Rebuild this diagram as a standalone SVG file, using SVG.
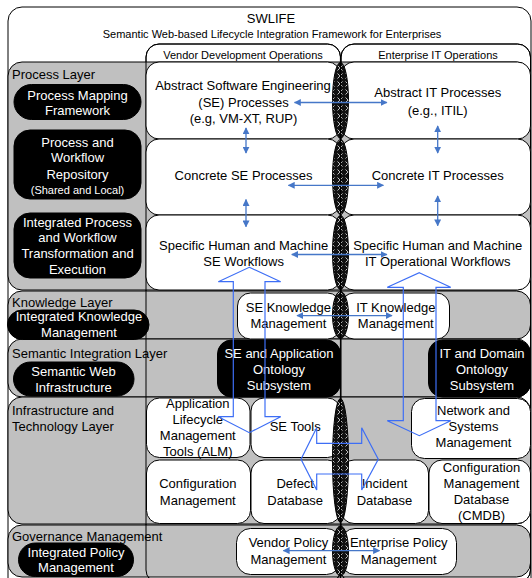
<svg xmlns="http://www.w3.org/2000/svg" width="532" height="578" viewBox="0 0 532 578">
<style>
.frame{fill:#fff;stroke:#000;stroke-width:1}
.col{fill:none;stroke:#000;stroke-width:1}
.colbg{fill:#fff;stroke:#000;stroke-width:1}
.panel{fill:#c0c0c0;stroke:#000;stroke-width:1}
.box{fill:#fff;stroke:#000;stroke-width:1}
.dark{fill:#000;stroke:#000;stroke-width:1}
.ell{fill:url(#hatch);stroke:#000;stroke-width:1}
text{font-family:"Liberation Sans",Arial,sans-serif;font-size:13px;text-anchor:middle;fill:#000}
.w{fill:#fff}
.l{text-anchor:start}
.s{font-size:11px}
.conn{stroke:#4677c8;stroke-width:1.3;fill:none;marker-start:url(#ah);marker-end:url(#ah)}
.block{stroke:#3d6ef5;stroke-width:1.2;fill:none}
</style>
<defs>
<pattern id="hatch" width="8" height="8" patternUnits="userSpaceOnUse" x="336" y="0">
<rect width="8" height="8" fill="#111"/>
<path d="M1.5,1.5 L6.5,6.5 M6.5,1.5 L1.5,6.5" stroke="#c8c8c8" stroke-width="1"/>
</pattern>
<marker id="ah" viewBox="0 0 10 10" refX="9" refY="5" markerWidth="7" markerHeight="7" markerUnits="userSpaceOnUse" orient="auto-start-reverse">
<path d="M0,0 L10,5 L0,10 z" fill="#4677c8"/>
</marker>
</defs>

<g id="frame">
<rect class="frame" x="8" y="7" width="523" height="590" rx="14"/>
<text x="271" y="23">SWLIFE</text>
<text class="s" x="272" y="38">Semantic Web-based Lifecycle Integration Framework for Enterprises</text>
</g>

<g id="columns-bg">
<rect class="colbg" x="146" y="44" width="194.5" height="539" rx="13"/>
<rect class="colbg" x="341" y="44" width="189.5" height="539" rx="13"/>
</g>

<g id="layers">
<rect id="process-layer" class="panel" x="8" y="62" width="522.5" height="228" rx="14"/>
<rect id="knowledge-layer" class="panel" x="8" y="291" width="522.5" height="48" rx="14"/>
<rect id="semantic-layer" class="panel" x="8" y="339" width="522.5" height="58" rx="14"/>
<rect id="infra-layer" class="panel" x="8" y="397" width="522.5" height="127" rx="14"/>
<rect id="gov-layer" class="panel" x="8" y="525" width="522.5" height="52" rx="14"/>
</g>

<g id="columns">
<rect class="col" x="146" y="44" width="194.5" height="539" rx="13"/>
<rect class="col" x="341" y="44" width="189.5" height="539" rx="13"/>
<text class="s" x="243" y="59">Vendor Development Operations</text>
<text class="s" x="438" y="59">Enterprise IT Operations</text>
</g>

<g id="layer-labels">
<text class="l" x="12" y="79">Process Layer</text>
<text class="l" x="12" y="306.5">Knowledge Layer</text>
<text class="l" x="12" y="357.5">Semantic Integration Layer</text>
<text class="l" x="12" y="414.5">Infrastructure and</text>
<text class="l" x="12" y="430.5">Technology Layer</text>
<text class="l" x="12" y="540.5">Governance Management</text>
</g>

<g id="process-mapping">
<rect class="dark" x="14" y="84.5" width="127" height="35" rx="17.5"/>
<text class="w" x="77.5" y="99.5">Process Mapping</text>
<text class="w" x="77.5" y="114.5">Framework</text>
</g>
<g id="repository">
<rect class="dark" x="14" y="130" width="127" height="69" rx="16"/>
<text class="w" x="77.5" y="146.5">Process and</text>
<text class="w" x="77.5" y="162">Workflow</text>
<text class="w" x="77.5" y="178.5">Repository</text>
<text class="w s" x="77.5" y="193.5">(Shared and Local)</text>
</g>
<g id="transformation">
<rect class="dark" x="14" y="213" width="127" height="65" rx="16"/>
<text class="w" x="77.5" y="226.5">Integrated Process</text>
<text class="w" x="77.5" y="241.5">and Workflow</text>
<text class="w" x="77.5" y="257.5">Transformation and</text>
<text class="w" x="77.5" y="273.5">Execution</text>
</g>
<g id="knowledge-mgmt">
<rect class="dark" x="7.5" y="310" width="141.5" height="29.5" rx="14.75"/>
<text class="w" x="79" y="320.5">Integrated Knowledge</text>
<text class="w" x="79" y="336.5">Management</text>
</g>
<g id="semantic-web">
<rect class="dark" x="13.5" y="362" width="120.5" height="34" rx="17"/>
<text class="w" x="73.5" y="375.5">Semantic Web</text>
<text class="w" x="73.5" y="392">Infrastructure</text>
</g>
<g id="policy-mgmt">
<rect class="dark" x="18.5" y="543" width="115" height="33.5" rx="16.75"/>
<text class="w" x="76" y="556.5">Integrated Policy</text>
<text class="w" x="76" y="571.5">Management</text>
</g>

<g id="abstract-se">
<rect class="box" x="146" y="62" width="194.5" height="77" rx="13"/>
<text x="243" y="90">Abstract Software Engineering</text>
<text x="243.5" y="106.5">(SE) Processes</text>
<text x="243.5" y="123">(e.g, VM-XT, RUP)</text>
</g>
<g id="abstract-it">
<rect class="box" x="341" y="62" width="189.5" height="77" rx="13"/>
<text x="437.7" y="97">Abstract IT Processes</text>
<text x="437.7" y="114.5">(e.g., ITIL)</text>
</g>
<g id="concrete-se">
<rect class="box" x="146" y="139" width="194.5" height="76" rx="13"/>
<text x="243.6" y="180.3">Concrete SE Processes</text>
</g>
<g id="concrete-it">
<rect class="box" x="341" y="139" width="189.5" height="76" rx="13"/>
<text x="437.7" y="180.3">Concrete IT Processes</text>
</g>
<g id="specific-se">
<rect class="box" x="146" y="215" width="194.5" height="75" rx="13"/>
<text x="243.6" y="250">Specific Human and Machine</text>
<text x="243.6" y="266">SE Workflows</text>
</g>
<g id="specific-it">
<rect class="box" x="341" y="215" width="189.5" height="75" rx="13"/>
<text x="437.7" y="250">Specific Human and Machine</text>
<text x="437.7" y="266">IT Operational Workflows</text>
</g>

<g id="se-knowledge">
<rect class="box" x="237.5" y="293" width="103" height="46" rx="13"/>
<text x="288.4" y="311.5">SE Knowledge</text>
<text x="288.4" y="328">Management</text>
</g>
<g id="it-knowledge">
<rect class="box" x="341" y="293" width="108.5" height="46" rx="13"/>
<text x="395.8" y="311.5">IT Knowledge</text>
<text x="395.8" y="328">Management</text>
</g>

<g id="se-ontology">
<rect class="dark" x="217.5" y="340" width="123" height="57" rx="14"/>
<text class="w" x="279" y="357.5">SE and Application</text>
<text class="w" x="279" y="373.5">Ontology</text>
<text class="w" x="279" y="389.5">Subsystem</text>
</g>
<g id="it-ontology">
<rect class="dark" x="428.5" y="340" width="102" height="57" rx="14"/>
<text class="w" x="482" y="357.5">IT and Domain</text>
<text class="w" x="482" y="373.5">Ontology</text>
<text class="w" x="482" y="389.5">Subsystem</text>
</g>

<g id="alm">
<rect class="box" x="146.5" y="398" width="103.5" height="59.5" rx="13"/>
<text x="197.8" y="408">Application</text>
<text x="197.8" y="424">Lifecycle</text>
<text x="197.8" y="439.5">Management</text>
<text x="197.8" y="455.5">Tools (ALM)</text>
</g>
<g id="se-tools">
<rect class="box" x="251" y="398" width="89.5" height="59.5" rx="13"/>
<text x="295.2" y="430.5">SE Tools</text>
</g>
<g id="network">
<rect class="box" x="411.5" y="398.5" width="119" height="60" rx="13"/>
<text x="473.5" y="414.5">Network and</text>
<text x="473.5" y="431">Systems</text>
<text x="473.5" y="447">Management</text>
</g>
<g id="config-mgmt">
<rect class="box" x="146.5" y="460" width="104" height="63.5" rx="13"/>
<text x="197.8" y="488">Configuration</text>
<text x="197.8" y="504.5">Management</text>
</g>
<g id="defect-db">
<rect class="box" x="251" y="460" width="89.5" height="63.5" rx="13"/>
<text x="295.2" y="488">Defect</text>
<text x="295.2" y="504.5">Database</text>
</g>
<g id="incident-db">
<rect class="box" x="341" y="460" width="87.5" height="63.5" rx="13"/>
<text x="384.5" y="488">Incident</text>
<text x="384.5" y="504.5">Database</text>
</g>
<g id="cmdb">
<rect class="box" x="429" y="460" width="101.5" height="63.5" rx="13"/>
<text x="481.5" y="471.5">Configuration</text>
<text x="481.5" y="487.5">Management</text>
<text x="481.5" y="504">Database</text>
<text x="481.5" y="520">(CMDB)</text>
</g>

<g id="vendor-policy">
<rect class="box" x="236.5" y="528.5" width="104" height="46" rx="14"/>
<text x="288.4" y="547.3">Vendor Policy</text>
<text x="288.4" y="563.5">Management</text>
</g>
<g id="enterprise-policy">
<rect class="box" x="341" y="528.5" width="115.5" height="46" rx="14"/>
<text x="398.7" y="547.3">Enterprise Policy</text>
<text x="398.7" y="563.5">Management</text>
</g>

<g id="boundary">
<ellipse class="ell" cx="340.5" cy="100.5" rx="8" ry="38"/>
<ellipse class="ell" cx="340.5" cy="177" rx="8" ry="37.5"/>
<ellipse class="ell" cx="340.5" cy="252.5" rx="8" ry="37"/>
<ellipse class="ell" cx="340.5" cy="315" rx="8" ry="23.5"/>
<ellipse class="ell" cx="340.5" cy="460.5" rx="8" ry="62"/>
<ellipse class="ell" cx="340.5" cy="551" rx="8" ry="25"/>
<line x1="340.5" y1="57" x2="340.5" y2="578" stroke="#000" stroke-width="1.2"/>
</g>

<g id="connectors">
<line class="conn" x1="294.5" y1="102.5" x2="386.8" y2="102.5"/>
<line class="conn" x1="288.4" y1="185.3" x2="383.4" y2="185.3"/>
<line class="conn" x1="291.8" y1="254.5" x2="386.8" y2="254.5"/>
<line class="conn" x1="297" y1="315.6" x2="392" y2="315.6"/>
<line class="conn" x1="283.3" y1="550.6" x2="379.4" y2="550.6"/>
<line class="conn" x1="246" y1="128" x2="246" y2="153"/>
<line class="conn" x1="246" y1="199.6" x2="246" y2="226.7"/>
<line class="conn" x1="437.7" y1="126" x2="437.7" y2="153"/>
<line class="conn" x1="437.7" y1="196" x2="437.7" y2="225.7"/>
<polygon class="block" points="249.3,267.3 280.7,281.7 265,281.7 265,416.7 280.7,416.7 249.3,432.7 218.3,416.7 233.3,416.7 233.3,281.7 218.3,281.7"/>
<polygon class="block" points="419.3,272.7 450.7,287.3 436,287.3 436,420.7 450.7,420.7 419.3,435.7 387.3,420.7 403.3,420.7 403.3,287.3 387.3,287.3"/>
<polygon class="block" points="301,459.3 316.7,427.7 316.7,443.3 361.7,443.3 361.7,427.7 378.3,459.3 361.7,490 361.7,474 316.7,474 316.7,490"/>
</g>
</svg>
